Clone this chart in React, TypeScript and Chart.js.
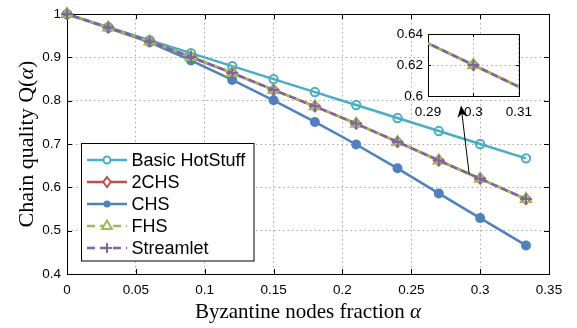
import React, { useEffect, useRef } from "react";
import { Chart, registerables } from "chart.js";

Chart.register(...registerables);

// ---------------- data ----------------
const alpha = [0, 0.03, 0.06, 0.09, 0.12, 0.15, 0.18, 0.21, 0.24, 0.27, 0.3, 0.3333];
const basicHotStuff = [1, 0.97, 0.94, 0.91, 0.88, 0.85, 0.82, 0.79, 0.76, 0.73, 0.7, 0.667];
const twoCHS = [1, 0.969, 0.937, 0.901, 0.864, 0.825, 0.787, 0.747, 0.705, 0.662, 0.62, 0.573];
const chs = [1, 0.968, 0.935, 0.893, 0.848, 0.801, 0.751, 0.699, 0.644, 0.586, 0.529, 0.466];
const fhs = [1, 0.969, 0.937, 0.901, 0.864, 0.825, 0.787, 0.747, 0.705, 0.662, 0.62, 0.573];
const streamlet = [1, 0.969, 0.937, 0.901, 0.864, 0.825, 0.787, 0.747, 0.705, 0.662, 0.62, 0.573];

const seriesNames = ["Basic HotStuff", "2CHS", "CHS", "FHS", "Streamlet"];

const xTicks = [0, 0.05, 0.1, 0.15, 0.2, 0.25, 0.3, 0.35];
const yTicks = [0.4, 0.5, 0.6, 0.7, 0.8, 0.9, 1];
const insetXTicks = [0.29, 0.3, 0.31];
const insetYTicks = [0.6, 0.62, 0.64];

// arrow (data coordinates of main axes): tail near curve, head toward inset
const arrowTail = [0.2921, 0.629];
const arrowHead = [0.2861, 0.789];

const xTitle = ["Byzantine nodes fraction ", "α", ""];
const yTitle = ["Chain quality Q(", "α", ")"];

// ---------------- styles ----------------
const COLORS = ["#4BACC6", "#C0504D", "#4F81BD", "#9BBB59", "#8064A2"];
const MARKERS = ["circle", "rectRot", "circleFilled", "triangle", "cross"];
const DASHES: number[][] = [[], [], [], [7, 4], [7, 4]];
const RADII = [4.2, 5, 4, 6, 5.5];
const ORDERS = [5, 4, 3, 2, 1];
const seriesValues = [basicHotStuff, twoCHS, chs, fhs, streamlet];

const SANS = "'Liberation Sans', Arial, sans-serif";
const SERIF = "'Liberation Serif', 'Times New Roman', serif";

function makeDatasets(big: boolean) {
  return seriesValues.map((vals, i) => {
    const m = MARKERS[i];
    return {
      label: seriesNames[i],
      data: alpha.map((a, k) => ({ x: a, y: vals[k] })),
      borderColor: COLORS[i],
      backgroundColor: m === "circleFilled" ? COLORS[i] : "rgba(255,255,255,0)",
      borderWidth: 2.5,
      borderDash: DASHES[i],
      borderDashOffset: i === 4 ? 5 : 0,
      pointStyle: m === "circleFilled" ? "circle" : m,
      pointRadius: RADII[i],
      pointBorderWidth: 2,
      pointBorderColor: COLORS[i],
      pointBackgroundColor: m === "circleFilled" ? COLORS[i] : "rgba(255,255,255,0)",
      pointHoverRadius: RADII[i],
      order: ORDERS[i],
      tension: 0,
      clip: big ? false : undefined,
    } as any;
  });
}

function fmt(v: number) {
  return String(+Number(v).toFixed(3));
}

function drawMixed(ctx: CanvasRenderingContext2D, parts: string[], size: number, x: number, y: number) {
  const fonts = [`${size}px ${SERIF}`, `italic ${size}px ${SERIF}`, `${size}px ${SERIF}`];
  const widths = parts.map((p, i) => {
    ctx.font = fonts[i];
    return ctx.measureText(p).width;
  });
  const total = widths.reduce((s, w) => s + w, 0);
  let cx = x - total / 2;
  ctx.textAlign = "left";
  ctx.textBaseline = "alphabetic";
  parts.forEach((p, i) => {
    ctx.font = fonts[i];
    ctx.fillText(p, cx, y);
    cx += widths[i];
  });
}

function drawMarker(ctx: CanvasRenderingContext2D, kind: string, x: number, y: number, r: number, color: string) {
  ctx.save();
  ctx.strokeStyle = color;
  ctx.fillStyle = color;
  ctx.lineWidth = 2;
  ctx.setLineDash([]);
  ctx.beginPath();
  if (kind === "circle") {
    ctx.arc(x, y, r, 0, Math.PI * 2);
    ctx.fillStyle = "#fff";
    ctx.fill();
    ctx.stroke();
  } else if (kind === "circleFilled") {
    ctx.arc(x, y, r, 0, Math.PI * 2);
    ctx.fill();
  } else if (kind === "rectRot") {
    ctx.moveTo(x, y - r);
    ctx.lineTo(x + r * 0.75, y);
    ctx.lineTo(x, y + r);
    ctx.lineTo(x - r * 0.75, y);
    ctx.closePath();
    ctx.fillStyle = "#fff";
    ctx.fill();
    ctx.stroke();
  } else if (kind === "triangle") {
    ctx.moveTo(x, y - r);
    ctx.lineTo(x + r * 0.9, y + r * 0.55);
    ctx.lineTo(x - r * 0.9, y + r * 0.55);
    ctx.closePath();
    ctx.fillStyle = "#fff";
    ctx.fill();
    ctx.stroke();
  } else if (kind === "cross") {
    ctx.moveTo(x - r, y);
    ctx.lineTo(x + r, y);
    ctx.moveTo(x, y - r);
    ctx.lineTo(x, y + r);
    ctx.stroke();
  }
  ctx.restore();
}

function framePlugin(tickLen: number) {
  return {
    id: "frame" + tickLen,
    beforeDatasetsDraw(chart: any) {
      const { ctx, chartArea: a, scales } = chart;
      ctx.save();
      ctx.strokeStyle = "#000";
      ctx.lineWidth = 1;
      ctx.setLineDash([]);
      ctx.beginPath();
      scales.x.ticks.forEach((t: any) => {
        const px = Math.round(scales.x.getPixelForValue(t.value)) + 0.5;
        ctx.moveTo(px, a.bottom);
        ctx.lineTo(px, a.bottom - tickLen);
        ctx.moveTo(px, a.top);
        ctx.lineTo(px, a.top + tickLen);
      });
      scales.y.ticks.forEach((t: any) => {
        const py = Math.round(scales.y.getPixelForValue(t.value)) + 0.5;
        ctx.moveTo(a.left, py);
        ctx.lineTo(a.left + tickLen, py);
        ctx.moveTo(a.right, py);
        ctx.lineTo(a.right - tickLen, py);
      });
      ctx.stroke();
      ctx.strokeRect(Math.round(a.left) + 0.5, Math.round(a.top) + 0.5, Math.round(a.right - a.left), Math.round(a.bottom - a.top));
      ctx.restore();
    },
  };
}

const mainExtras = {
  id: "mainExtras",
  afterDraw(chart: any) {
    const { ctx, chartArea: a, scales } = chart;
    ctx.save();
    ctx.fillStyle = "#000";
    // axis titles
    drawMixed(ctx, xTitle, 21, (a.left + a.right) / 2, 318);
    ctx.save();
    ctx.translate(33, (a.top + a.bottom) / 2);
    ctx.rotate(-Math.PI / 2);
    drawMixed(ctx, yTitle, 22, 0, 0);
    ctx.restore();

    // arrow
    const tx = scales.x.getPixelForValue(arrowTail[0]);
    const ty = scales.y.getPixelForValue(arrowTail[1]);
    const hx = scales.x.getPixelForValue(arrowHead[0]);
    const hy = scales.y.getPixelForValue(arrowHead[1]);
    const ang = Math.atan2(hy - ty, hx - tx);
    const L = 12, W = 5;
    ctx.strokeStyle = "#000";
    ctx.lineWidth = 1;
    ctx.beginPath();
    ctx.moveTo(tx, ty);
    ctx.lineTo(hx - Math.cos(ang) * 6, hy - Math.sin(ang) * 6);
    ctx.stroke();
    ctx.beginPath();
    const bx = hx - Math.cos(ang) * L, by = hy - Math.sin(ang) * L;
    const nx = -Math.sin(ang), ny = Math.cos(ang);
    ctx.moveTo(hx, hy);
    ctx.lineTo(bx + nx * W, by + ny * W);
    ctx.lineTo(hx - Math.cos(ang) * L * 0.7, hy - Math.sin(ang) * L * 0.7);
    ctx.lineTo(bx - nx * W, by - ny * W);
    ctx.closePath();
    ctx.fill();

    // legend
    const lx = 81.5, ly = 143.5, lw = 172.5, lh = 117.5;
    ctx.fillStyle = "#fff";
    ctx.fillRect(lx, ly, lw, lh);
    ctx.strokeStyle = "#000";
    ctx.lineWidth = 1;
    ctx.strokeRect(lx, ly, lw, lh);
    seriesNames.forEach((name, i) => {
      const ry = 160 + i * 22;
      ctx.save();
      ctx.strokeStyle = COLORS[i];
      ctx.lineWidth = 2.5;
      ctx.setLineDash(DASHES[i].length ? [8, 5] : []);
      ctx.beginPath();
      ctx.moveTo(87, ry);
      ctx.lineTo(127, ry);
      ctx.stroke();
      ctx.restore();
      const lr = [3.5, 5, 3.5, 5.5, 5][i];
      drawMarker(ctx, MARKERS[i], 107, ry, lr, COLORS[i]);
      ctx.fillStyle = "#000";
      ctx.font = `18px ${SANS}`;
      ctx.textAlign = "left";
      ctx.textBaseline = "middle";
      ctx.fillText(name, 131.5, ry + 1);
    });
    ctx.restore();
  },
};

const insetBg = {
  id: "insetBg",
  beforeDraw(chart: any) {
    const { ctx, chartArea: a } = chart;
    ctx.save();
    ctx.fillStyle = "#fff";
    ctx.fillRect(a.left, a.top, a.right - a.left, a.bottom - a.top);
    ctx.restore();
  },
};

function scaleOpts(ticks: number[], min: number, max: number, isX: boolean, size: number, pad: number, fit: number) {
  return {
    type: "linear",
    min,
    max,
    afterBuildTicks: (s: any) => {
      s.ticks = ticks.map((v) => ({ value: v }));
    },
    afterFit: (s: any) => {
      if (isX) s.height = fit;
      else s.width = fit;
    },
    ticks: {
      autoSkip: false,
      maxRotation: 0,
      padding: pad,
      color: "#000",
      font: { family: SANS, size },
      callback: (v: any) => fmt(v),
    },
    grid: {
      display: true,
      drawTicks: false,
      color: "#a8a8a8",
      lineWidth: 1,
    },
    border: { display: false, dash: [1.5, 3] },
  } as any;
}

export default function App() {
  const mainRef = useRef<HTMLCanvasElement>(null);
  const insetRef = useRef<HTMLCanvasElement>(null);

  useEffect(() => {
    const main = new Chart(mainRef.current as HTMLCanvasElement, {
      type: "line",
      data: { datasets: makeDatasets(true) },
      options: {
        responsive: false,
        animation: false,
        devicePixelRatio: 1,
        layout: { padding: { top: 8, right: 28, left: 0, bottom: 0 } },
        plugins: { legend: { display: false }, tooltip: { enabled: false } },
        scales: {
          x: scaleOpts(xTicks, 0, 0.35, true, 13.5, 8, 54),
          y: scaleOpts(yTicks, 0.4, 1, false, 13.5, 6, 67),
        },
      } as any,
      plugins: [framePlugin(5), mainExtras],
    });
    const inset = new Chart(insetRef.current as HTMLCanvasElement, {
      type: "line",
      data: { datasets: makeDatasets(false) },
      options: {
        responsive: false,
        animation: false,
        devicePixelRatio: 1,
        layout: { padding: { top: 14, right: 13, left: 0, bottom: 0 } },
        plugins: { legend: { display: false }, tooltip: { enabled: false } },
        scales: {
          x: scaleOpts(insetXTicks, 0.29, 0.31, true, 13.5, 8, 24),
          y: scaleOpts(insetYTicks, 0.6, 0.64, false, 13.5, 5, 48),
        },
      } as any,
      plugins: [insetBg, framePlugin(3)],
    });
    return () => {
      main.destroy();
      inset.destroy();
    };
  }, []);

  return (
    <div style={{ position: "fixed", left: 0, top: 0, width: 577, height: 328, background: "#fff" }}>
      <canvas ref={mainRef} width={577} height={328} style={{ position: "absolute", left: 0, top: 0, width: 577, height: 328 }} />
      <canvas ref={insetRef} width={160} height={100} style={{ position: "absolute", left: 380, top: 20, width: 160, height: 100 }} />
    </div>
  );
}
